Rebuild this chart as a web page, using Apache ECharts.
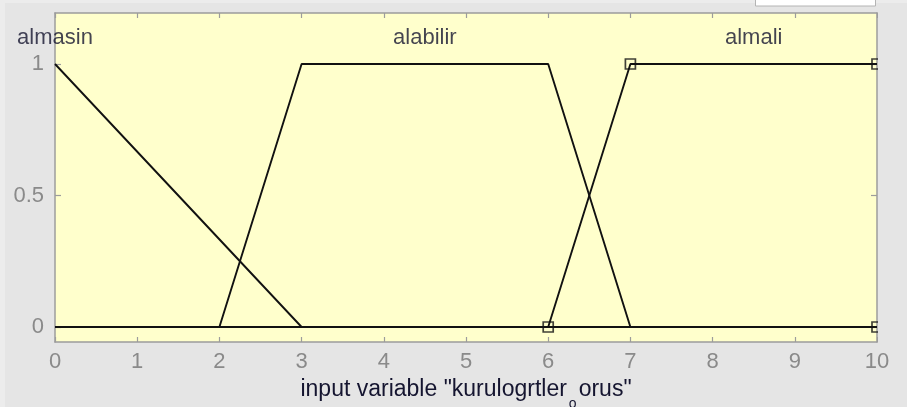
<!DOCTYPE html>
<html>
<head>
<meta charset="utf-8">
<script src="https://cdn.jsdelivr.net/npm/echarts@6/dist/echarts.min.js"></script>
<style>
  html, body { margin: 0; padding: 0; background: #e5e5e5; }
  #chart { width: 907px; height: 407px; }
</style>
</head>
<body>
<div id="chart"></div>
<script>
// Membership functions of the input variable, as polyline vertices [x, mu]
const xTicks = [0, 1, 2, 3, 4, 5, 6, 7, 8, 9, 10];
const yTicks = [0, 0.5, 1];
const mfNames = ['almasin', 'alabilir', 'almali'];
const mfLabelX = [0, 4.5, 8.5];
const mfLabelY = [1.1, 1.1, 1.1];
const almasin = [[0, 1], [3, 0], [10, 0]];
const alabilir = [[0, 0], [2, 0], [3, 1], [6, 1], [7, 0], [10, 0]];
const almali = [[0, 0], [6, 0], [7, 1], [10, 1]];
// vertices of the currently selected function (almali)
const selectedX = [6, 7, 10, 10];
const selectedY = [0, 1, 1, 0];

const FONT = '"Liberation Sans", Arial, sans-serif';
const AXIS_GRAY = '#9c9c9c';
const TICK_TXT = '#8a8a8a';
const LABEL_TXT = '#151530';

const chart = echarts.init(document.getElementById('chart'), null, { renderer: 'canvas' });

const lineStyle = { color: '#111', width: 1.9 };
const mfSeries = [almasin, alabilir, almali].map((pts, i) => ({
  name: mfNames[i],
  type: 'line',
  data: pts,
  symbol: 'none',
  lineStyle: lineStyle,
  animation: false,
  z: 3
}));

chart.setOption({
  backgroundColor: '#e5e5e5',
  animation: false,
  grid: {
    left: 55, right: 30, top: 13, bottom: 65,
    outerBoundsMode: 'none',
    containLabel: false,
    show: true, backgroundColor: '#ffffcc', borderWidth: 0
  },
  xAxis: [{
    type: 'value', min: 0, max: 10, interval: 1, position: 'bottom',
    axisLine: { show: true, onZero: false, lineStyle: { color: AXIS_GRAY, width: 1.5 } },
    axisTick: { show: true, inside: true, length: 5, lineStyle: { color: AXIS_GRAY, width: 1.2 } },
    axisLabel: { color: TICK_TXT, fontFamily: FONT, fontSize: 22, margin: 9,
                 formatter: v => String(xTicks[Math.round(v)]) },
    splitLine: { show: false },
    name: '{m|input variable "kurulogrtler}{s|o}{m|orus"}',
    nameLocation: 'middle',
    nameGap: 36,
    nameTextStyle: {
      color: LABEL_TXT, fontFamily: FONT, fontSize: 23,
      rich: {
        m: { fontFamily: FONT, fontSize: 23, color: LABEL_TXT, verticalAlign: 'top', lineHeight: 28 },
        s: { fontFamily: FONT, fontSize: 14, color: LABEL_TXT, verticalAlign: 'top', padding: [19, 2, 0, 2] }
      }
    }
  }, {
    type: 'value', min: 0, max: 10, interval: 1, position: 'top',
    axisLine: { show: true, onZero: false, lineStyle: { color: AXIS_GRAY, width: 1.5 } },
    axisTick: { show: true, inside: true, length: 5, lineStyle: { color: AXIS_GRAY, width: 1.2 } },
    axisLabel: { show: false },
    splitLine: { show: false }
  }],
  yAxis: [{
    type: 'value', min: -0.057, max: 1.194, position: 'left',
    axisLine: { show: true, onZero: false, lineStyle: { color: AXIS_GRAY, width: 1.5 } },
    axisTick: { show: true, inside: true, length: 6, customValues: yTicks,
                lineStyle: { color: AXIS_GRAY, width: 1.2 } },
    axisLabel: { color: TICK_TXT, fontFamily: FONT, fontSize: 22, margin: 11,
                 customValues: yTicks, formatter: v => String(v) },
    splitLine: { show: false }
  }, {
    type: 'value', min: -0.057, max: 1.194, position: 'right',
    axisLine: { show: true, onZero: false, lineStyle: { color: AXIS_GRAY, width: 1.5 } },
    axisTick: { show: true, inside: true, length: 6, customValues: yTicks,
                lineStyle: { color: AXIS_GRAY, width: 1.2 } },
    axisLabel: { show: false },
    splitLine: { show: false }
  }],
  series: mfSeries.concat([{
    name: 'selected',
    type: 'scatter',
    data: selectedX.map((x, i) => [x, selectedY[i]]),
    symbol: 'rect',
    symbolSize: 10,
    itemStyle: { color: 'rgba(0,0,0,0)', borderColor: '#111', borderWidth: 1.7 },
    z: 4
  }, {
    name: 'labels',
    type: 'scatter',
    data: mfNames.map((n, i) => ({ value: [mfLabelX[i], mfLabelY[i]], name: n })),
    symbolSize: 0,
    silent: true,
    clip: false,
    label: {
      show: true, position: 'inside', formatter: p => p.name,
      color: LABEL_TXT, fontFamily: FONT, fontSize: 22
    },
    z: 5
  }]),
  graphic: [
    // lighter window edges
    { type: 'rect', left: 0, top: 0, shape: { width: 907, height: 3 }, style: { fill: '#ececec' }, z: 0 },
    { type: 'rect', left: 0, top: 0, shape: { width: 5, height: 407 }, style: { fill: '#ececec' }, z: 0 },
    // panel box peeking in at the top right
    { type: 'rect', shape: { x: 755.5, y: -2, width: 120, height: 8 },
      style: { fill: '#ffffff', stroke: '#b4b4b4', lineWidth: 1 }, z: 0 },
    // keep markers on the right border clipped to the axes box
    { type: 'rect', shape: { x: 878, y: 8, width: 29, height: 336 },
      style: { fill: '#e5e5e5' }, z: 100 }
  ]
});
</script>
</body>
</html>
